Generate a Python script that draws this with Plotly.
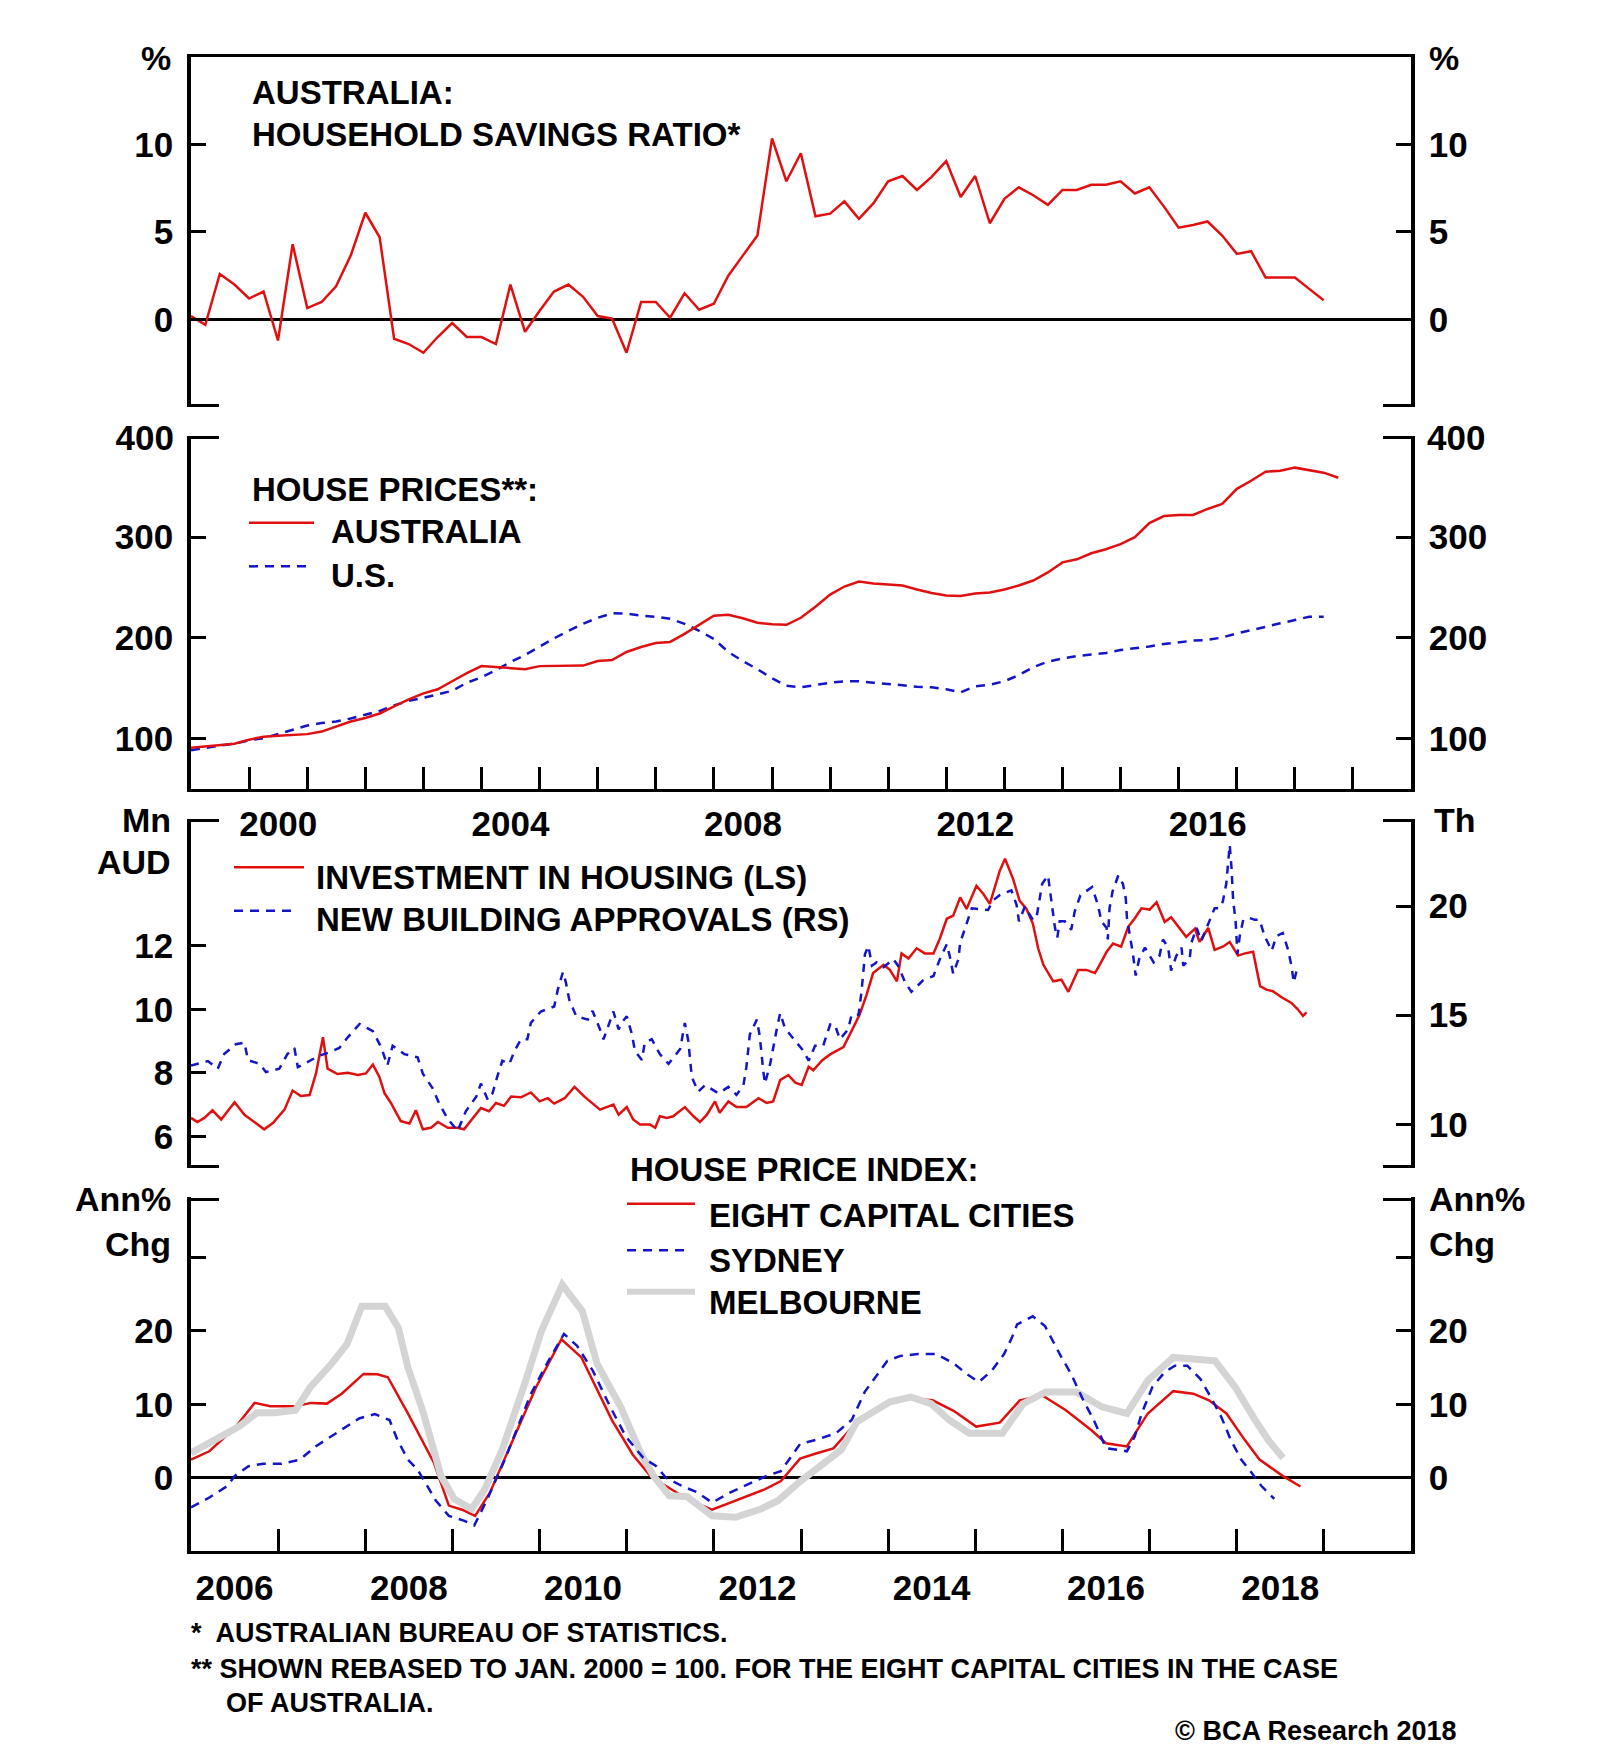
import pandas as pd
import plotly.graph_objects as go

# ---------------- DATA ----------------
# Panel 1: Australia household savings ratio (%), quarterly from 1999Q1
savings_start = "1999-01-01"
savings = [0.2, -0.3, 2.6, 2.0, 1.2, 1.6, -1.2, 4.3, 0.65, 1.0, 1.9, 3.65,
           6.1, 4.7, -1.1, -1.4, -1.9, -1.0, -0.2, -1.0, -1.0, -1.4, 2.0, -0.7,
           0.5, 1.6, 2.0, 1.3, 0.2, 0.05, -1.9, 1.0, 1.0, 0.1, 1.5, 0.56,
           0.9, 2.5, 3.65, 4.8, 10.35, 7.9, 9.5, 5.9, 6.05, 6.75, 5.75, 6.65,
           7.9, 8.2, 7.4, 8.15, 9.05, 7.0, 8.2, 5.5, 6.9, 7.55, 7.1, 6.55,
           7.4, 7.4, 7.7, 7.7, 7.9, 7.2, 7.55, 6.45, 5.25, 5.4, 5.6, 4.8,
           3.75, 3.9, 2.4, 2.4, 2.4, 1.75, 1.1]

# Panel 2: house prices rebased Jan 2000 = 100, quarterly from 1999Q1
prices_start = "1999-01-01"
price_australia = [91, 92.5, 94, 95, 99, 102, 103, 104, 104.5, 107, 112, 117,
                   120.5, 125, 132, 139, 145, 149, 157, 165, 172, 171, 170, 169,
                   172, 172, 172, 172.5, 177, 178, 186, 191, 195, 196, 204, 213,
                   222, 223, 219.5, 215, 213.5, 213, 220, 231, 243, 251, 256, 254,
                   253, 252, 248, 244.5, 242, 241.5, 244, 245, 248, 252, 257, 265,
                   275, 278, 284, 288, 293, 300, 314, 321, 322, 322, 328, 333,
                   348, 356, 365, 366, 369, 366.5, 364, 359]
price_us = [88.5, 91, 93, 95, 98.4, 100.5, 104.5, 109, 113, 115.5, 117, 120,
            124, 127.5, 133, 137.5, 140.5, 144, 147.5, 155.5, 161, 168, 176, 183,
            191.5, 199.5, 207, 214, 220, 224.4, 224.2, 222, 221, 219, 214, 207,
            199, 186, 177, 169, 160, 152.5, 151, 153.5, 155.5, 157, 157, 155.5,
            154.5, 153, 151.5, 151, 149, 146, 152, 153.5, 157, 163, 171, 176.5,
            179.5, 182, 183.5, 185, 188, 189.5, 191.5, 194, 196, 197.3, 198, 200.4,
            204.5, 207.5, 211, 214.5, 218, 221, 221]

# Panel 3: investment in housing (Mn AUD, LS) and new building approvals (Th, RS)
invest_t = [1999.0, 1999.11, 1999.23, 1999.37, 1999.52, 1999.75, 1999.92, 2000.09, 2000.26, 2000.41,
            2000.61, 2000.75, 2000.89, 2001.04, 2001.15, 2001.27, 2001.35, 2001.52, 2001.7, 2001.87,
            2002.01, 2002.13, 2002.24, 2002.33, 2002.44, 2002.61, 2002.76, 2002.87, 2002.99, 2003.13,
            2003.25, 2003.42, 2003.59, 2003.7, 2003.85, 2003.99, 2004.13, 2004.25, 2004.39, 2004.51,
            2004.68, 2004.85, 2005.0, 2005.14, 2005.25, 2005.43, 2005.6, 2005.77, 2006.04, 2006.27,
            2006.36, 2006.5, 2006.61, 2006.73, 2006.9, 2006.99, 2007.07, 2007.19, 2007.3, 2007.5,
            2007.65, 2007.76, 2007.88, 2008.02, 2008.1, 2008.25, 2008.39, 2008.56, 2008.77, 2008.91,
            2009.02, 2009.14, 2009.28, 2009.4, 2009.51, 2009.63, 2009.71, 2009.86, 2010.0, 2010.11,
            2010.23, 2010.4, 2010.51, 2010.63, 2010.74, 2010.92, 2011.03, 2011.15, 2011.23, 2011.35,
            2011.49, 2011.63, 2011.78, 2011.89, 2012.01, 2012.12, 2012.24, 2012.35, 2012.52, 2012.64,
            2012.75, 2012.92, 2013.01, 2013.15, 2013.26, 2013.38, 2013.49, 2013.58, 2013.67, 2013.84,
            2013.98, 2014.1, 2014.27, 2014.41, 2014.56, 2014.64, 2014.76, 2014.87, 2015.01, 2015.13,
            2015.24, 2015.36, 2015.5, 2015.62, 2015.76, 2015.87, 2016.0, 2016.13, 2016.28, 2016.36,
            2016.51, 2016.62, 2016.76, 2016.88, 2017.02, 2017.14, 2017.28, 2017.4, 2017.51, 2017.62,
            2017.77, 2017.94, 2018.05, 2018.14, 2018.2]
invest_v = [6.58, 6.45, 6.58, 6.82, 6.53, 7.07, 6.68, 6.45, 6.22, 6.42,
            6.84, 7.44, 7.27, 7.3, 7.98, 9.12, 8.13, 7.96, 8.0, 7.93,
            7.98, 8.26, 7.88, 7.36, 7.05, 6.48, 6.4, 6.82, 6.22, 6.27,
            6.45, 6.27, 6.27, 6.22, 6.58, 6.89, 6.79, 7.05, 6.96, 7.25,
            7.23, 7.38, 7.1, 7.2, 7.03, 7.2, 7.56, 7.25, 6.84, 7.0,
            6.68, 6.92, 6.53, 6.37, 6.37, 6.27, 6.63, 6.58, 6.63, 6.92,
            6.63, 6.45, 6.68, 7.1, 6.74, 7.1, 6.92, 6.92, 7.2, 7.05,
            7.1, 7.77, 7.93, 7.69, 7.62, 8.19, 8.08, 8.39, 8.58, 8.7,
            8.81, 9.43, 9.84, 10.47, 11.14, 11.4, 11.24, 10.88, 11.76, 11.6,
            11.92, 11.76, 11.76, 12.23, 12.85, 12.95, 13.52, 13.16, 13.89, 13.63,
            13.32, 14.35, 14.74, 14.1, 13.42, 13.16, 12.69, 11.92, 11.4, 10.88,
            10.93, 10.55, 11.24, 11.24, 11.14, 11.4, 11.81, 12.07, 11.97, 12.59,
            12.85, 13.18, 13.14, 13.37, 12.75, 12.9, 12.59, 12.28, 12.54, 12.12,
            12.56, 11.87, 11.97, 12.12, 11.69, 11.76, 11.81, 10.73, 10.62, 10.57,
            10.38, 10.2, 10.0, 9.79, 9.9]

approvals_t = [1999.0, 1999.29, 1999.46, 1999.57, 1999.77, 1999.92, 1999.98, 2000.18, 2000.29, 2000.52,
               2000.66, 2000.78, 2000.84, 2001.01, 2001.21, 2001.38, 2001.55, 2001.7, 2001.9, 2002.13,
               2002.27, 2002.38, 2002.47, 2002.67, 2002.9, 2002.99, 2003.16, 2003.27, 2003.42, 2003.59,
               2003.73, 2003.91, 2003.99, 2004.11, 2004.19, 2004.27, 2004.36, 2004.48, 2004.57, 2004.68,
               2004.79, 2004.85, 2005.02, 2005.25, 2005.31, 2005.4, 2005.45, 2005.51, 2005.63, 2005.83,
               2005.91, 2006.04, 2006.1, 2006.21, 2006.27, 2006.36, 2006.41, 2006.5, 2006.59, 2006.64,
               2006.76, 2006.81, 2006.93, 2007.07, 2007.22, 2007.42, 2007.5, 2007.56, 2007.59, 2007.62,
               2007.73, 2007.85, 2008.08, 2008.25, 2008.39, 2008.51, 2008.56, 2008.62, 2008.74, 2008.79,
               2008.85, 2008.88, 2008.97, 2009.02, 2009.08, 2009.14, 2009.22, 2009.4, 2009.54, 2009.63,
               2009.74, 2009.88, 2010.0, 2010.08, 2010.17, 2010.31, 2010.37, 2010.49, 2010.54, 2010.6,
               2010.66, 2010.72, 2010.8, 2010.92, 2011.09, 2011.17, 2011.29, 2011.4, 2011.6, 2011.78,
               2011.89, 2012.01, 2012.06, 2012.12, 2012.21, 2012.24, 2012.35, 2012.44, 2012.72, 2012.81,
               2012.92, 2013.12, 2013.21, 2013.25, 2013.35, 2013.49, 2013.55, 2013.65, 2013.75, 2013.81,
               2013.87, 2013.91, 2013.95, 2014.04, 2014.15, 2014.21, 2014.31, 2014.51, 2014.61, 2014.67,
               2014.76, 2014.78, 2014.81, 2014.86, 2014.96, 2015.04, 2015.09, 2015.11, 2015.16, 2015.21,
               2015.26, 2015.32, 2015.42, 2015.57, 2015.67, 2015.73, 2015.82, 2015.87, 2015.96, 2016.05,
               2016.08, 2016.19, 2016.22, 2016.31, 2016.39, 2016.51, 2016.62, 2016.7, 2016.76, 2016.82,
               2016.85, 2016.88, 2016.91, 2016.94, 2016.98, 2017.01, 2017.05, 2017.11, 2017.22, 2017.31,
               2017.39, 2017.48, 2017.6, 2017.68, 2017.79, 2017.88, 2017.94, 2017.98, 2018.03, 2018.08]
approvals_v = [12.7, 12.9, 12.55, 13.22, 13.67, 13.75, 12.95, 12.77, 12.4, 12.55,
               13.22, 13.5, 12.62, 12.85, 13.15, 13.3, 13.5, 14.0, 14.6, 14.27,
               13.55, 12.7, 13.6, 13.22, 13.07, 12.32, 11.65, 10.97, 10.25, 9.7,
               10.6, 11.27, 11.87, 11.12, 11.42, 12.17, 12.92, 12.77, 13.37, 13.9,
               13.9, 14.65, 15.17, 15.4, 16.15, 16.97, 16.52, 15.7, 14.95, 14.8,
               15.2, 14.35, 13.9, 14.72, 15.17, 14.35, 14.65, 14.95, 14.12, 13.37,
               12.95, 13.75, 13.9, 13.22, 12.77, 13.45, 14.65, 13.82, 13.0, 12.17,
               11.5, 11.8, 11.42, 11.72, 11.35, 11.8, 12.62, 14.12, 14.8, 14.05,
               12.47, 11.87, 12.77, 13.6, 14.35, 15.1, 14.42, 13.82, 13.37, 12.92,
               13.6, 13.6, 14.57, 14.57, 13.9, 14.35, 15.02, 15.02, 16.07, 17.8,
               18.17, 17.27, 17.42, 17.2, 17.57, 17.27, 16.52, 16.07, 16.6, 16.8,
               17.57, 18.25, 17.72, 16.9, 17.57, 18.32, 19.15, 19.9, 19.82, 20.27,
               20.5, 20.72, 20.05, 19.3, 19.97, 19.37, 19.45, 21.02, 21.4, 20.2,
               19.0, 18.55, 19.3, 19.3, 18.92, 19.75, 20.5, 20.87, 20.05, 19.3,
               19.0, 18.47, 19.9, 20.65, 21.4, 21.02, 20.35, 19.45, 18.62, 17.87,
               16.82, 17.57, 18.1, 17.42, 17.72, 18.47, 18.1, 17.05, 17.72, 18.1,
               17.27, 17.57, 18.32, 19.0, 18.4, 19.15, 19.9, 19.9, 20.2, 21.02,
               21.85, 22.8, 21.77, 20.2, 19.37, 17.8, 18.62, 19.37, 19.45, 19.37,
               19.37, 18.62, 17.95, 18.62, 18.77, 18.02, 17.27, 16.5, 17.05, 17.05]

# Panel 4: house price index, annual % change
eight_t = [2006.0, 2006.21, 2006.5, 2006.73, 2006.91, 2007.2, 2007.38, 2007.56, 2007.73, 2007.98,
           2008.14, 2008.26, 2008.49, 2008.79, 2008.96, 2009.11, 2009.26, 2009.43, 2009.66, 2009.96,
           2010.25, 2010.48, 2010.83, 2011.07, 2011.28, 2011.42, 2011.72, 2011.98, 2012.3, 2012.59,
           2012.77, 2012.99, 2013.17, 2013.37, 2013.61, 2013.8, 2014.0, 2014.25, 2014.51, 2014.75,
           2015.01, 2015.28, 2015.51, 2015.77, 2016.04, 2016.33, 2016.5, 2016.74, 2016.98, 2017.27,
           2017.5, 2017.68, 2017.88, 2018.09, 2018.26, 2018.53, 2018.73]
eight_v = [2.47, 3.6, 6.74, 10.2, 9.75, 9.75, 10.2, 10.1, 11.45, 14.15,
           14.1, 13.7, 8.76, 2.0, -3.8, -4.36, -5.2, -2.0, 4.27, 12.36,
           18.87, 16.4, 7.86, 3.14, 0.13, -0.9, -3.1, -4.36, -2.9, -1.57,
           -0.45, 2.6, 3.3, 4.0, 7.2, 8.9, 10.3, 10.8, 10.55, 9.12,
           6.97, 7.5, 10.55, 11.2, 9.2, 6.5, 4.7, 4.27, 8.76, 11.8,
           11.45, 10.55, 8.76, 5.16, 2.47, 0.22, -1.2]

sydney_t = [2006.0, 2006.21, 2006.42, 2006.5, 2006.66, 2006.83, 2007.04, 2007.25, 2007.43, 2007.61,
            2007.79, 2007.93, 2008.11, 2008.28, 2008.37, 2008.49, 2008.6, 2008.69, 2008.81, 2008.96,
            2009.13, 2009.25, 2009.4, 2009.6, 2009.9, 2010.1, 2010.28, 2010.43, 2010.61, 2010.81,
            2010.99, 2011.19, 2011.34, 2011.45, 2011.63, 2011.81, 2011.98, 2012.19, 2012.39, 2012.6,
            2012.77, 2012.99, 2013.17, 2013.4, 2013.58, 2013.73, 2013.84, 2013.99, 2014.14, 2014.34,
            2014.55, 2014.75, 2014.9, 2015.04, 2015.19, 2015.33, 2015.42, 2015.48, 2015.66, 2015.8,
            2015.89, 2015.98, 2016.1, 2016.24, 2016.36, 2016.5, 2016.74, 2016.83, 2016.91, 2017.03,
            2017.17, 2017.29, 2017.43, 2017.58, 2017.7, 2017.82, 2017.93, 2018.05, 2018.17, 2018.28,
            2018.43]
sydney_v = [-4.04, -2.7, -1.1, 0.22, 1.57, 1.9, 1.9, 2.47, 4.27, 5.6,
            6.97, 8.08, 8.67, 7.86, 5.16, 2.47, 1.12, -0.67, -3.1, -5.2,
            -5.84, -6.5, -2.9, 2.47, 11.45, 15.9, 19.6, 17.97, 14.6, 9.66,
            5.6, 2.7, 1.57, 0.0, -1.1, -2.0, -3.4, -2.0, -0.9, 0.22,
            0.9, 4.6, 5.16, 6.07, 7.86, 11.7, 13.5, 15.94, 16.6, 16.85,
            16.85, 15.6, 14.15, 13.03, 14.6, 16.85, 19.1, 20.9, 22.0, 20.66,
            18.64, 16.6, 14.15, 10.55, 7.86, 4.04, 3.6, 5.6, 8.76, 12.36,
            14.38, 15.27, 15.27, 13.48, 11.0, 8.3, 5.16, 2.47, 0.67, -1.1,
            -2.9]

melb_t = [2006.0, 2006.26, 2006.55, 2006.76, 2006.96, 2007.2, 2007.37, 2007.61, 2007.79, 2007.96,
          2008.23, 2008.38, 2008.49, 2008.67, 2008.87, 2009.02, 2009.22, 2009.37, 2009.57, 2009.84,
          2010.02, 2010.26, 2010.49, 2010.66, 2010.93, 2011.16, 2011.31, 2011.49, 2011.69, 2011.98,
          2012.25, 2012.54, 2012.74, 2012.99, 2013.23, 2013.46, 2013.64, 2013.79, 2014.02, 2014.26,
          2014.49, 2014.7, 2014.93, 2015.31, 2015.55, 2015.81, 2016.16, 2016.45, 2016.74, 2016.98,
          2017.27, 2017.75, 2017.98, 2018.21, 2018.36, 2018.53]
melb_v = [3.37, 5.16, 6.97, 8.85, 8.85, 9.2, 12.36, 15.5, 18.2, 23.36,
          23.36, 20.44, 15.05, 8.76, 0.22, -2.9, -4.27, -1.57, 3.8, 13.25,
          19.98, 26.3, 22.7, 15.5, 9.66, 3.37, 0.22, -2.47, -2.56, -5.2,
          -5.4, -4.27, -3.1, -0.5, 1.57, 3.8, 7.64, 8.76, 10.34, 11.0,
          10.1, 7.86, 6.07, 6.07, 10.1, 11.7, 11.7, 9.66, 8.76, 13.25,
          16.4, 15.94, 12.36, 7.86, 5.16, 2.7]

top_years = [2000, 2004, 2008, 2012, 2016]
bottom_years = [2006, 2008, 2010, 2012, 2014, 2016, 2018]

# ---------------- STYLE ----------------
RED = "#E01010"
BLUE = "#1414C8"
GREY = "#D4D4D4"
FAM = "Liberation Sans, Arial, sans-serif"
OFF = 8                     # default page margin of the html body
FW, FH = 1600 - 2 * OFF, 1758 - 2 * OFF


def font(size):
    return dict(family=FAM, size=size, color="black", weight="bold")


def px(x):
    return (x - OFF) / FW


def py(y):
    return 1 - (y - OFF) / FH


def dec_dates(ts):
    out = []
    for t in ts:
        yr = int(t)
        out.append(pd.Timestamp(yr, 1, 1) + pd.Timedelta(days=(t - yr) * 365.25))
    return out


def q_dates(start, n):
    return pd.date_range(start, periods=n, freq="QS")


XL, XR = 191, 1411
xdom = [px(XL), px(XR)]
pan = {1: (39.3, 393), 2: (422.7, 779), 3: (809, 1162), 4: (1191.7, 1549)}   # top, bottom (px)
dom = {k: [py(b), py(t)] for k, (t, b) in pan.items()}

fig = go.Figure()

# Panel 1
fig.add_trace(go.Scatter(x=q_dates(savings_start, len(savings)), y=savings, xaxis="x", yaxis="y",
                         mode="lines", line=dict(color=RED, width=2.5)))
# Panel 2
fig.add_trace(go.Scatter(x=q_dates(prices_start, len(price_us)), y=price_us, xaxis="x2", yaxis="y2",
                         mode="lines", line=dict(color=BLUE, width=2.5, dash="9px,7px")))
fig.add_trace(go.Scatter(x=q_dates(prices_start, len(price_australia)), y=price_australia, xaxis="x2", yaxis="y2",
                         mode="lines", line=dict(color=RED, width=2.5)))
# Panel 3
fig.add_trace(go.Scatter(x=dec_dates(invest_t), y=invest_v, xaxis="x3", yaxis="y3",
                         mode="lines", line=dict(color=RED, width=2.5)))
fig.add_trace(go.Scatter(x=dec_dates(approvals_t), y=approvals_v, xaxis="x3", yaxis="y7",
                         mode="lines", line=dict(color=BLUE, width=2.5, dash="8px,7px")))
# Panel 4
fig.add_trace(go.Scatter(x=dec_dates(eight_t), y=eight_v, xaxis="x4", yaxis="y4",
                         mode="lines", line=dict(color=RED, width=2.5)))
fig.add_trace(go.Scatter(x=dec_dates(melb_t), y=melb_v, xaxis="x4", yaxis="y4",
                         mode="lines", line=dict(color=GREY, width=7)))
fig.add_trace(go.Scatter(x=dec_dates(sydney_t), y=sydney_v, xaxis="x4", yaxis="y4",
                         mode="lines", line=dict(color=BLUE, width=2.5, dash="9px,7px")))

# empty placeholder traces so that the mirror / end-cap axes get drawn
for xa, ya in [("x", "y5"), ("x2", "y6"), ("x4", "y8"), ("x", "y9"), ("x", "y10"),
               ("x2", "y11"), ("x2", "y12"), ("x3", "y13"), ("x3", "y14"),
               ("x4", "y15"), ("x4", "y16")]:
    fig.add_trace(go.Scatter(x=[None], y=[None], xaxis=xa, yaxis=ya, mode="lines",
                             hoverinfo="skip", showlegend=False))


def yax(rng, tickvals, ticktext, side, anchor, domain=None, overlaying=None,
        ticklen=15, showline=True, zeroline=False, labels=True, standoff=7):
    d = dict(range=rng, tickmode="array", tickvals=tickvals, ticktext=ticktext,
             ticks="inside", ticklen=ticklen, tickwidth=3, tickcolor="black",
             showline=showline, linecolor="black", linewidth=3.5,
             showgrid=False, zeroline=zeroline, zerolinecolor="black", zerolinewidth=3,
             side=side, anchor=anchor, tickfont=font(35), showticklabels=labels,
             ticklabelstandoff=standoff, fixedrange=True)
    if domain is not None:
        d["domain"] = domain
    if overlaying is not None:
        d["overlaying"] = overlaying
    return d


def cap(rng, k, which):
    """end-cap tick value, nudged 1.6 px inside the axis end (ticks exactly at the end are clipped)"""
    t, b = pan[k]
    eps = 1.6 * (rng[1] - rng[0]) / (b - t)
    return rng[0] + eps if which == "lo" else rng[1] - eps


r1 = [-5, 15]
r2 = [50, 400]
r3L = [5, 16]
r3R = [8, 24]
r4 = [-10, 38.2]

t1 = [0, 5, 10]
t2 = [100, 200, 300]
t3L = [6, 8, 10, 12]
t3R = [10, 15, 20]
t4 = [0, 10, 20, 30]
t4txt = ["0", "10", "20", ""]

layout_axes = dict(
    yaxis=yax(r1, t1, [str(v) for v in t1], "left", "x", domain=dom[1], zeroline=True),
    yaxis2=yax(r2, t2, [str(v) for v in t2], "left", "x2", domain=dom[2]),
    yaxis3=yax(r3L, t3L, [str(v) for v in t3L], "left", "x3", domain=dom[3]),
    yaxis4=yax(r4, t4, t4txt, "left", "x4", domain=dom[4], zeroline=True),
    yaxis5=yax(r1, t1, [str(v) for v in t1], "right", "x", overlaying="y"),
    yaxis6=yax(r2, t2, [str(v) for v in t2], "right", "x2", overlaying="y2"),
    yaxis7=yax(r3R, t3R, [str(v) for v in t3R], "right", "x3", overlaying="y3"),
    yaxis8=yax(r4, t4, t4txt, "right", "x4", overlaying="y4"),
    # end caps (long ticks at ends of vertical axes)
    yaxis9=yax(r1, [cap(r1, 1, "lo")], [""], "left", "x", overlaying="y", ticklen=28,
               showline=False, labels=False),
    yaxis10=yax(r1, [cap(r1, 1, "lo")], [""], "right", "x", overlaying="y", ticklen=28,
                showline=False, labels=False),
    yaxis11=yax(r2, [cap(r2, 2, "hi")], ["400"], "left", "x2", overlaying="y2", ticklen=28,
                showline=False, standoff=16),
    yaxis12=yax(r2, [cap(r2, 2, "hi")], ["400"], "right", "x2", overlaying="y2", ticklen=28,
                showline=False, standoff=15),
    yaxis13=yax(r3L, [cap(r3L, 3, "lo"), cap(r3L, 3, "hi")], ["", ""], "left", "x3", overlaying="y3",
                ticklen=28, showline=False, labels=False),
    yaxis14=yax(r3R, [cap(r3R, 3, "lo"), cap(r3R, 3, "hi")], ["", ""], "right", "x3", overlaying="y3",
                ticklen=28, showline=False, labels=False),
    yaxis15=yax(r4, [cap(r4, 4, "hi")], [""], "left", "x4", overlaying="y4", ticklen=28,
                showline=False, labels=False),
    yaxis16=yax(r4, [cap(r4, 4, "hi")], [""], "right", "x4", overlaying="y4", ticklen=28,
                showline=False, labels=False),
)

xr_top = ["1999-01-01", "2020-01-01"]
xr_bot = ["2006-01-01", "2020-01-01"]
top_ticks = [f"{y}-01-01" for y in range(2000, 2020)]
bot_ticks = [f"{y}-01-01" for y in range(2007, 2020)]

layout_axes.update(
    xaxis=dict(domain=xdom, range=xr_top, anchor="y", side="top", showline=True, linecolor="black",
               linewidth=3, ticks="", showticklabels=False, showgrid=False, zeroline=False, fixedrange=True),
    xaxis2=dict(domain=xdom, range=xr_top, anchor="y2", side="bottom", showline=True, linecolor="black",
                linewidth=3, tickmode="array", tickvals=[f"{y}-07-02" for y in top_years],
                ticktext=[str(y) for y in top_years], ticks="", tickfont=font(35), ticklabelstandoff=2,
                showgrid=False, zeroline=False, fixedrange=True,
                minor=dict(tickmode="array", tickvals=top_ticks, ticks="inside", ticklen=22,
                           tickwidth=3, tickcolor="black", showgrid=False)),
    xaxis3=dict(domain=xdom, range=xr_top, anchor="y3", visible=False, fixedrange=True),
    xaxis4=dict(domain=xdom, range=xr_bot, anchor="y4", side="bottom", showline=True, linecolor="black",
                linewidth=3, tickmode="array", tickvals=[f"{y}-07-02" for y in bottom_years],
                ticktext=[str(y) for y in bottom_years], ticks="", tickfont=font(35), ticklabelstandoff=4,
                showgrid=False, zeroline=False, fixedrange=True,
                minor=dict(tickmode="array", tickvals=bot_ticks, ticks="inside", ticklen=22,
                           tickwidth=3, tickcolor="black", showgrid=False)),
)


def ann(text, x, y, size=33, xanchor="left"):
    return dict(text=text, x=px(x), y=py(y), xref="paper", yref="paper", xanchor=xanchor,
                yanchor="middle", showarrow=False, font=font(size))


annotations = [
    ann("%", 173, 40, 34, "right"), ann("%", 1427, 40, 34, "left"),
    ann("AUSTRALIA:", 250, 75), ann("HOUSEHOLD SAVINGS RATIO*", 250, 118),
    ann("HOUSE PRICES**:", 250, 476), ann("AUSTRALIA", 329, 519), ann("U.S.", 329, 563),
    ann("Mn", 173, 810, 34, "right"), ann("AUD", 173, 853, 34, "right"), ann("Th", 1432, 810, 34, "left"),
    ann("INVESTMENT IN HOUSING (LS)", 314, 868), ann("NEW BUILDING APPROVALS (RS)", 314, 911),
    ann("HOUSE PRICE INDEX:", 628, 1163), ann("EIGHT CAPITAL CITIES", 707, 1210),
    ann("SYDNEY", 707, 1255), ann("MELBOURNE", 707, 1298),
    ann("Ann%", 173, 1193, 34, "right"), ann("Chg", 173, 1239, 34, "right"),
    ann("Ann%", 1427, 1193, 34, "left"), ann("Chg", 1427, 1239, 34, "left"),
    ann("*  AUSTRALIAN BUREAU OF STATISTICS.", 189, 1632, 27),
    ann("** SHOWN REBASED TO JAN. 2000 = 100. FOR THE EIGHT CAPITAL CITIES IN THE CASE", 189, 1668, 27),
    ann("OF AUSTRALIA.", 224, 1703, 27),
    ann("© BCA Research 2018", 1459, 1731, 27, "right"),
]


def seg(x0, x1, y, color, width, dash="solid"):
    return dict(type="line", xref="paper", yref="paper", x0=px(x0), x1=px(x1), y0=py(y), y1=py(y),
                line=dict(color=color, width=width, dash=dash))


shapes = [
    seg(249, 314, 510, RED, 2.5), seg(249, 311, 554, BLUE, 2.5, "9px,7px"),
    seg(234, 304, 858, RED, 2.5), seg(234, 296, 902, BLUE, 2.5, "9px,7px"),
    seg(627, 695, 1198, RED, 2.5), seg(627, 691, 1245, BLUE, 2.5, "9px,7px"),
    seg(627, 695, 1287, GREY, 6),
]

fig.update_layout(
    width=FW, height=FH, autosize=False,
    margin=dict(l=0, r=0, t=0, b=0),
    paper_bgcolor="white", plot_bgcolor="white",
    showlegend=False,
    annotations=annotations, shapes=shapes,
    **layout_axes,
)

fig.write_html("out.html")
